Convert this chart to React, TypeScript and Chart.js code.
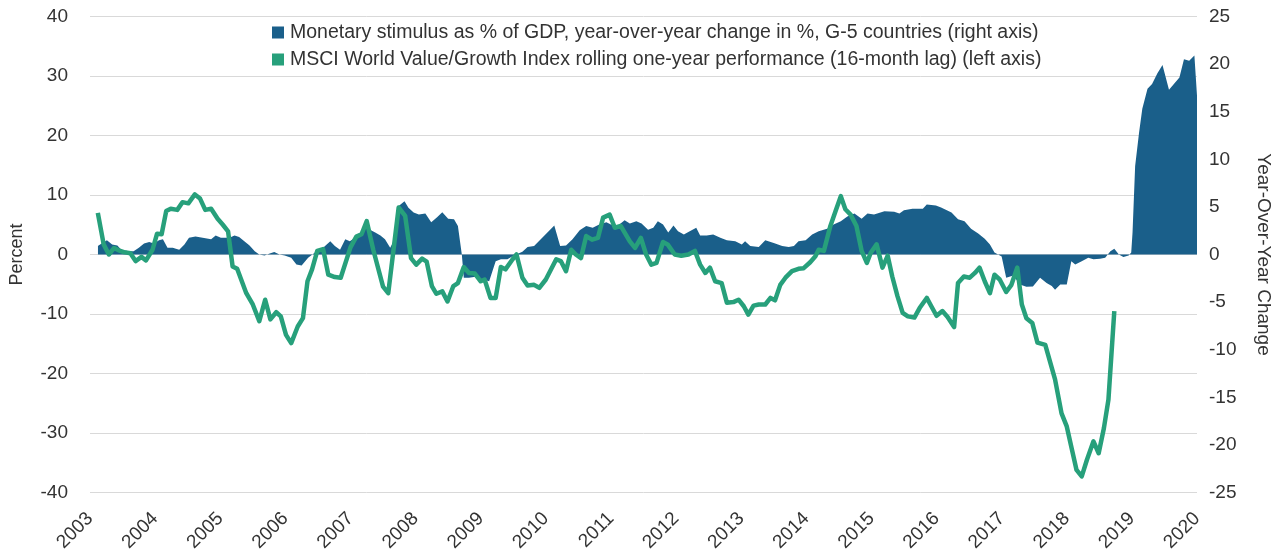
import React, { useEffect, useRef } from "react";
import { Chart, registerables } from "chart.js";

Chart.register(...registerables);

// ---- Data ----
const yearTicks = [2003, 2004, 2005, 2006, 2007, 2008, 2009, 2010, 2011, 2012, 2013, 2014, 2015, 2016, 2017, 2018, 2019, 2020];

const stimulusLabel = "Monetary stimulus as % of GDP, year-over-year change in %, G-5 countries (right axis)";
const msciLabel = "MSCI World Value/Growth Index rolling one-year performance (16-month lag) (left axis)";

// Monetary stimulus (right axis), dates as fractional years
const stimulusDates = [
  2003.12, 2003.19, 2003.26, 2003.34, 2003.42, 2003.48, 2003.60, 2003.67, 2003.75, 2003.83, 2003.91, 2003.98,
  2004.06, 2004.12, 2004.19, 2004.27, 2004.37, 2004.45, 2004.52, 2004.62, 2004.73, 2004.86, 2004.93, 2005.01,
  2005.14, 2005.22, 2005.29, 2005.37, 2005.45, 2005.53, 2005.60, 2005.68, 2005.76, 2005.83, 2005.91, 2005.99,
  2006.09, 2006.17, 2006.25, 2006.35, 2006.48, 2006.58, 2006.69, 2006.76, 2006.84, 2006.92, 2006.99,
  2007.07, 2007.15, 2007.22, 2007.30, 2007.38, 2007.46, 2007.53, 2007.61, 2007.69, 2007.74, 2007.83, 2007.89, 2007.97,
  2008.05, 2008.15, 2008.24, 2008.33, 2008.41, 2008.50, 2008.59, 2008.65, 2008.71, 2008.74, 2008.82, 2008.92,
  2009.02, 2009.13, 2009.23, 2009.31, 2009.41, 2009.51, 2009.64, 2009.72, 2009.82,
  2010.13, 2010.22, 2010.31, 2010.41, 2010.52, 2010.62, 2010.72, 2010.82, 2010.93,
  2011.00, 2011.11, 2011.21, 2011.29, 2011.39, 2011.47, 2011.57, 2011.65, 2011.72, 2011.80, 2011.88, 2011.96,
  2012.03, 2012.12, 2012.21, 2012.31, 2012.37, 2012.47, 2012.57, 2012.68, 2012.78, 2012.91,
  2013.01, 2013.06, 2013.14, 2013.27, 2013.37, 2013.50, 2013.63, 2013.73, 2013.81, 2013.88, 2013.99,
  2014.09, 2014.19, 2014.32, 2014.42, 2014.53, 2014.63, 2014.74, 2014.85, 2014.94,
  2015.04, 2015.20, 2015.35, 2015.43, 2015.50, 2015.63, 2015.79, 2015.85, 2015.99,
  2016.07, 2016.23, 2016.33, 2016.43, 2016.53, 2016.64, 2016.74, 2016.82, 2016.89, 2017.00,
  2017.07, 2017.18, 2017.28, 2017.38, 2017.48, 2017.59, 2017.69, 2017.77, 2017.82, 2017.90, 2018.00,
  2018.07, 2018.13, 2018.23, 2018.33, 2018.41, 2018.51, 2018.59, 2018.67, 2018.73, 2018.80, 2018.87, 2018.95, 2018.99,
  2019.01, 2019.05, 2019.11, 2019.16, 2019.24, 2019.31, 2019.39, 2019.47, 2019.57, 2019.73, 2019.80, 2019.88, 2019.96, 2020.0,
];
const stimulusValues = [
  0.9, 1.2, 1.5, 1.05, 0.95, 0.5, 0.35, 0.35, 0.7, 1.15, 1.3, 1.15,
  1.5, 1.6, 0.7, 0.7, 0.5, 1.05, 1.75, 1.9, 1.75, 1.6, 2.0, 1.75,
  1.75, 2.0, 1.85, 1.4, 0.95, 0.35, 0.0, -0.1, 0.1, 0.25, 0.0, -0.1,
  -0.35, -1.05, -1.15, -0.35, 0.35, 0.7, 1.4, 0.9, 0.5, 1.6, 1.4,
  1.75, 2.1, 3.0, 2.6, 2.3, 2.0, 1.6, 0.7, 1.75, 5.1, 5.6, 4.9, 4.4,
  4.2, 4.3, 3.4, 3.9, 4.45, 3.75, 3.7, 3.0, 0.0, -2.45, -2.45, -2.35,
  -2.6, -2.8, -0.7, -0.5, -0.5, -0.1, 0.3, 0.8, 0.9,
  3.05, 0.9, 0.95, 1.6, 2.55, 3.0, 2.8, 3.15, 3.4,
  3.15, 3.05, 3.6, 3.25, 3.5, 3.25, 2.6, 2.8, 3.5, 3.15, 2.3, 3.05,
  2.45, 2.1, 2.45, 2.8, 2.0, 2.0, 2.1, 1.75, 1.5, 1.4,
  1.05, 1.4, 0.9, 0.8, 1.5, 1.2, 0.9, 0.8, 0.9, 1.4, 1.5,
  2.1, 2.45, 2.7, 3.15, 3.5, 4.0, 4.3, 3.75, 4.3,
  4.2, 4.55, 4.5, 4.3, 4.65, 4.8, 4.8, 5.25, 5.15,
  4.95, 4.4, 3.7, 3.5, 2.7, 2.2, 1.65, 1.05, 0.2, -0.2,
  -2.45, -2.2, -3.15, -3.4, -3.35, -2.45, -3.0, -3.3, -3.7, -3.15, -3.15,
  -0.7, -1.05, -0.7, -0.35, -0.5, -0.45, -0.35, 0.35, 0.6, 0.0, -0.25, -0.1, 0.2,
  2.3, 9.3, 12.8, 15.3, 17.4, 17.9, 19.0, 19.9, 17.3, 18.6, 20.5, 20.35, 20.9, 16.7,
];

// MSCI World Value/Growth (left axis)
const msciDates = [
  2003.12, 2003.21, 2003.29, 2003.37, 2003.44, 2003.52, 2003.62, 2003.70, 2003.79, 2003.86, 2003.96,
  2004.03, 2004.10, 2004.17, 2004.24, 2004.34, 2004.42, 2004.51, 2004.61, 2004.69, 2004.77, 2004.86, 2004.96,
  2005.04, 2005.12, 2005.19, 2005.26, 2005.40, 2005.50, 2005.60, 2005.69, 2005.77, 2005.86, 2005.93,
  2006.01, 2006.09, 2006.19, 2006.27, 2006.34, 2006.41, 2006.49, 2006.58, 2006.66, 2006.76, 2006.85,
  2007.00, 2007.09, 2007.17, 2007.25, 2007.35, 2007.50, 2007.58, 2007.74, 2007.84, 2007.93,
  2008.01, 2008.10, 2008.17, 2008.25, 2008.32, 2008.41, 2008.49, 2008.58, 2008.65, 2008.74, 2008.82, 2008.91,
  2009.00, 2009.06, 2009.15, 2009.23, 2009.31, 2009.38, 2009.49, 2009.55, 2009.64, 2009.72, 2009.82, 2009.90,
  2010.00, 2010.16, 2010.23, 2010.31, 2010.39, 2010.46, 2010.54, 2010.62, 2010.71, 2010.80, 2010.88, 2010.98,
  2011.06, 2011.15, 2011.29, 2011.37, 2011.46, 2011.54, 2011.62, 2011.70, 2011.80, 2011.87, 2011.98,
  2012.08, 2012.19, 2012.29, 2012.37, 2012.45, 2012.52, 2012.60, 2012.70, 2012.78, 2012.88, 2012.96,
  2013.04, 2013.11, 2013.19, 2013.27, 2013.37, 2013.45, 2013.52, 2013.60, 2013.68, 2013.78, 2013.88, 2013.96,
  2014.06, 2014.14, 2014.19, 2014.27, 2014.37, 2014.45, 2014.53, 2014.60, 2014.68, 2014.77, 2014.85, 2014.93, 2014.99,
  2015.08, 2015.17, 2015.25, 2015.32, 2015.40, 2015.48, 2015.56, 2015.66, 2015.74, 2015.85, 2015.92,
  2016.00, 2016.09, 2016.17, 2016.27, 2016.33, 2016.42, 2016.51, 2016.59, 2016.66, 2016.74, 2016.82, 2016.89, 2016.97,
  2017.07, 2017.15, 2017.24, 2017.31, 2017.38, 2017.47, 2017.55, 2017.67, 2017.82, 2017.92,
  2018.00, 2018.08, 2018.15, 2018.23, 2018.31, 2018.41, 2018.49, 2018.57, 2018.64, 2018.73,
];
const msciValues = [
  7.0, 1.7, 0.0, 1.1, 0.7, 0.4, 0.2, -1.1, -0.4, -1.0, 0.8,
  3.5, 3.4, 7.3, 7.7, 7.5, 8.8, 8.6, 10.1, 9.4, 7.5, 7.7, 6.0,
  5.0, 3.9, -2.0, -2.4, -6.5, -8.4, -11.2, -7.6, -10.9, -9.7, -10.4,
  -13.5, -14.9, -12.1, -10.7, -4.5, -2.5, 0.6, 0.9, -3.4, -3.8, -3.9,
  1.2, 3.0, 3.4, 5.6, 0.8, -5.4, -6.5, 7.9, 6.5, -0.6,
  -1.7, -0.7, -1.2, -5.3, -6.6, -6.2, -7.9, -5.3, -4.8, -2.1, -3.1, -3.2,
  -4.5, -4.2, -7.3, -7.3, -2.1, -2.5, -0.8, 0.0, -3.9, -5.2, -5.1, -5.6,
  -4.2, -0.8, -1.1, -2.8, 0.8, 0.0, -0.6, 3.1, 2.5, 2.8, 6.2, 6.7,
  4.5, 4.8, 2.2, 1.1, 2.8, 0.0, -1.7, -1.4, 2.1, 1.7, 0.0,
  -0.2, 0.0, 0.6, -1.7, -3.1, -2.2, -4.5, -4.8, -8.1, -8.0, -7.6,
  -8.7, -10.1, -8.6, -8.4, -8.4, -7.3, -7.7, -5.1, -3.9, -2.8, -2.4, -2.3,
  -1.3, -0.3, 0.8, 0.6, 4.8, 7.3, 9.8, 7.6, 6.7, 4.8, 0.6, -1.4, 0.3,
  1.7, -2.2, -0.2, -3.7, -7.0, -9.8, -10.4, -10.6, -9.0, -7.3, -8.7,
  -10.3, -9.5, -10.5, -12.2, -4.8, -3.7, -3.9, -3.1, -2.2, -4.5, -6.5, -3.4, -4.2,
  -6.3, -5.1, -2.2, -8.4, -10.7, -11.5, -14.8, -15.2, -21.0, -26.7,
  -28.9, -32.8, -36.2, -37.3, -34.5, -31.4, -33.4, -29.2, -24.4, -9.5,
];

const BLUE = "#1a5f8a";
const GREEN = "#27a07b";
const TEXT = "#333333";
const FONT = '"Liberation Sans", Arial, Helvetica, sans-serif';

const legendPlugin = {
  id: "customLegend",
  afterDatasetsDraw(chart: any) {
    const ctx = chart.ctx;
    const items = [
      { label: stimulusLabel, color: BLUE },
      { label: msciLabel, color: GREEN },
    ];
    ctx.save();
    ctx.font = `19.5px ${FONT}`;
    ctx.textBaseline = "middle";
    ctx.textAlign = "left";
    const top = chart.chartArea.top;
    items.forEach((it, i) => {
      const y = top + 16 + i * 27;
      ctx.fillStyle = it.color;
      ctx.fillRect(272, y - 6, 12, 12);
      ctx.fillStyle = TEXT;
      ctx.fillText(it.label, 290, y);
    });
    ctx.restore();
  },
};

export default function App() {
  const canvasRef = useRef<HTMLCanvasElement | null>(null);

  useEffect(() => {
    if (!canvasRef.current) return;
    const chart = new Chart(canvasRef.current, {
      type: "line",
      data: {
        datasets: [
          {
            label: msciLabel,
            data: msciDates.map((d, i) => ({ x: d, y: msciValues[i] })),
            yAxisID: "yLeft",
            borderColor: GREEN,
            backgroundColor: GREEN,
            borderWidth: 4.5,
            pointRadius: 0,
            tension: 0,
            fill: false,
            order: 0,
            borderJoinStyle: "round",
          },
          {
            label: stimulusLabel,
            data: stimulusDates.map((d, i) => ({ x: d, y: stimulusValues[i] })),
            yAxisID: "yRight",
            borderColor: BLUE,
            backgroundColor: BLUE,
            borderWidth: 0,
            pointRadius: 0,
            tension: 0,
            fill: "origin",
            order: 1,
          },
        ],
      },
      options: {
        animation: false,
        responsive: true,
        maintainAspectRatio: false,
        layout: { padding: { top: 16.5, left: 0, right: 0, bottom: 0 } },
        plugins: {
          legend: { display: false },
          tooltip: { enabled: false },
        },
        scales: {
          x: {
            type: "linear",
            min: 2003,
            max: 2020,
            afterBuildTicks: (scale: any) => {
              scale.ticks = yearTicks.map((v) => ({ value: v }));
            },
            afterFit: (scale: any) => {
              scale.height = 65.5;
              scale.paddingLeft = 0;
              scale.paddingRight = 0;
            },
            ticks: {
              autoSkip: false,
              maxRotation: 45,
              minRotation: 45,
              color: TEXT,
              font: { size: 19, family: FONT },
              padding: 7,
              callback: (v: any) => String(v),
            },
            grid: { display: false },
            border: { display: false },
          },
          yLeft: {
            type: "linear",
            position: "left",
            min: -40,
            max: 40,
            afterFit: (scale: any) => {
              scale.width = 90;
              scale.paddingTop = 0;
              scale.paddingBottom = 0;
            },
            ticks: {
              stepSize: 10,
              color: TEXT,
              font: { size: 19, family: FONT },
              padding: 22,
            },
            grid: { color: "#d9d9d9", lineWidth: 1, drawTicks: false },
            border: { display: false },
            title: {
              display: true,
              text: "Percent",
              color: TEXT,
              font: { size: 18, family: FONT },
              padding: { top: 6, bottom: 0 },
            },
          },
          yRight: {
            type: "linear",
            position: "right",
            min: -25,
            max: 25,
            afterFit: (scale: any) => {
              scale.width = 83;
              scale.paddingTop = 0;
              scale.paddingBottom = 0;
            },
            ticks: {
              stepSize: 5,
              color: TEXT,
              font: { size: 19, family: FONT },
              padding: 12,
            },
            grid: { display: false, drawTicks: false },
            border: { display: false },
            title: {
              display: true,
              text: "Year-Over-Year Change",
              color: TEXT,
              font: { size: 19, family: FONT },
              padding: { top: 5, bottom: 0 },
            },
          },
        },
      },
      plugins: [legendPlugin],
    } as any);
    return () => chart.destroy();
  }, []);

  return (
    <div style={{ position: "absolute", left: 0, top: 0, width: 1280, height: 558, background: "#fff" }}>
      <canvas ref={canvasRef} />
    </div>
  );
}
